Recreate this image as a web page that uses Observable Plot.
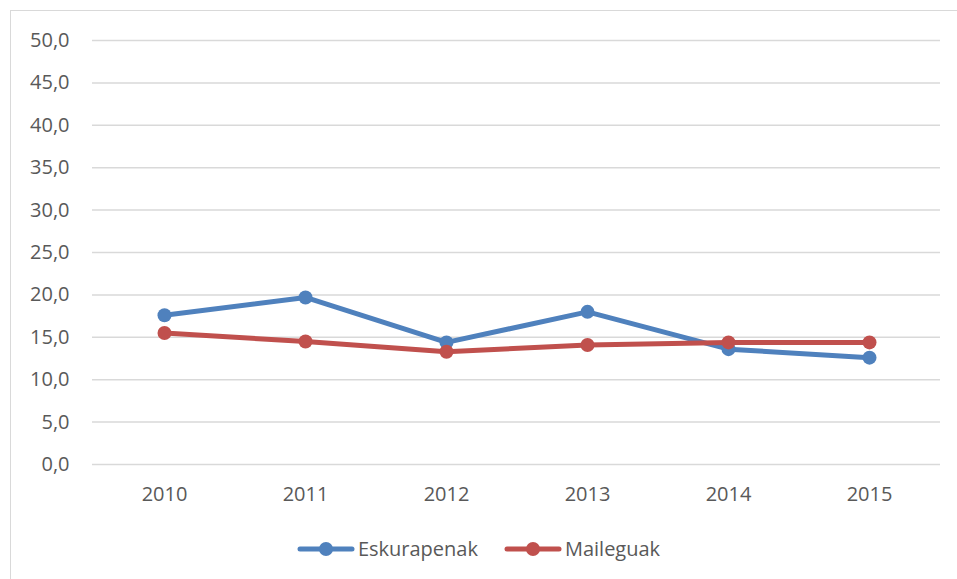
<!DOCTYPE html>
<html>
<head>
<meta charset="utf-8">
<script src="https://cdn.jsdelivr.net/npm/d3@7"></script>
<script src="https://cdn.jsdelivr.net/npm/@observablehq/plot@0.6"></script>
<style>
  html, body { margin: 0; padding: 0; background: #fff; overflow: hidden; }
  #wrap { position: relative; width: 957px; height: 579px; overflow: hidden; font-family: "Open Sans", "Noto Sans", sans-serif; }
  #frame { position: absolute; left: 10px; top: 10px; width: 1000px; height: 1000px; border: 1.5px solid #d9d9d9; box-sizing: border-box; }
  #chart { position: absolute; left: 0; top: 0; }
  #legend { position: absolute; left: 0; top: 535px; width: 957px; display: flex; justify-content: center; gap: 26px; color: #595959; font-size: 20px; }
  .item { display: flex; align-items: center; }
  .item span { margin-left: 3px; }
</style>
</head>
<body>
<div id="wrap">
  <div id="frame"></div>
  <div id="chart"></div>
  <div id="legend"></div>
</div>
<script>
const years = ["2010", "2011", "2012", "2013", "2014", "2015"];
const eskurapenak = [17.6, 19.7, 14.4, 18.0, 13.6, 12.6];
const maileguak = [15.5, 14.5, 13.3, 14.1, 14.4, 14.4];
const seriesNames = ["Eskurapenak", "Maileguak"];
const seriesColors = ["#4F81BD", "#C0504D"];
const yTicks = [0, 5, 10, 15, 20, 25, 30, 35, 40, 45, 50];

const seriesValues = [eskurapenak, maileguak];
const marks = [
  Plot.ruleY(yTicks, {stroke: "#d9d9d9", strokeWidth: 1.5}),
  Plot.axisY({ticks: yTicks, tickSize: 0, tickPadding: 23, fontSize: 20, color: "#595959",
    tickFormat: d => d.toFixed(1).replace(".", ","), label: null}),
  Plot.axisX({tickSize: 0, tickPadding: 22, fontSize: 20, color: "#595959", label: null})
];
seriesValues.forEach((vals, i) => {
  const data = years.map((y, j) => ({year: y, value: vals[j]}));
  marks.push(Plot.line(data, {x: "year", y: "value", stroke: seriesColors[i], strokeWidth: 5, strokeLinejoin: "round", strokeLinecap: "round"}));
  marks.push(Plot.dot(data, {x: "year", y: "value", fill: seriesColors[i], r: 7, stroke: "none"}));
});

const chart = Plot.plot({
  width: 957,
  height: 579,
  marginLeft: 92,
  marginRight: 17,
  marginTop: 40,
  marginBottom: 115,
  style: {background: "transparent", fontFamily: "'Open Sans', 'Noto Sans', sans-serif", color: "#595959"},
  x: {type: "point", domain: years, padding: 0.5},
  y: {domain: [0, 50]},
  marks
});
document.getElementById("chart").appendChild(chart);

const legend = document.getElementById("legend");
seriesNames.forEach((name, i) => {
  const item = document.createElement("div");
  item.className = "item";
  const svg = d3.create("svg").attr("width", 58).attr("height", 20);
  svg.append("line").attr("x1", 3).attr("x2", 55).attr("y1", 10).attr("y2", 10)
    .attr("stroke", seriesColors[i]).attr("stroke-width", 5).attr("stroke-linecap", "round");
  svg.append("circle").attr("cx", 29).attr("cy", 10).attr("r", 7).attr("fill", seriesColors[i]);
  item.appendChild(svg.node());
  const t = document.createElement("span");
  t.textContent = name;
  item.appendChild(t);
  legend.appendChild(item);
});
</script>
</body>
</html>
